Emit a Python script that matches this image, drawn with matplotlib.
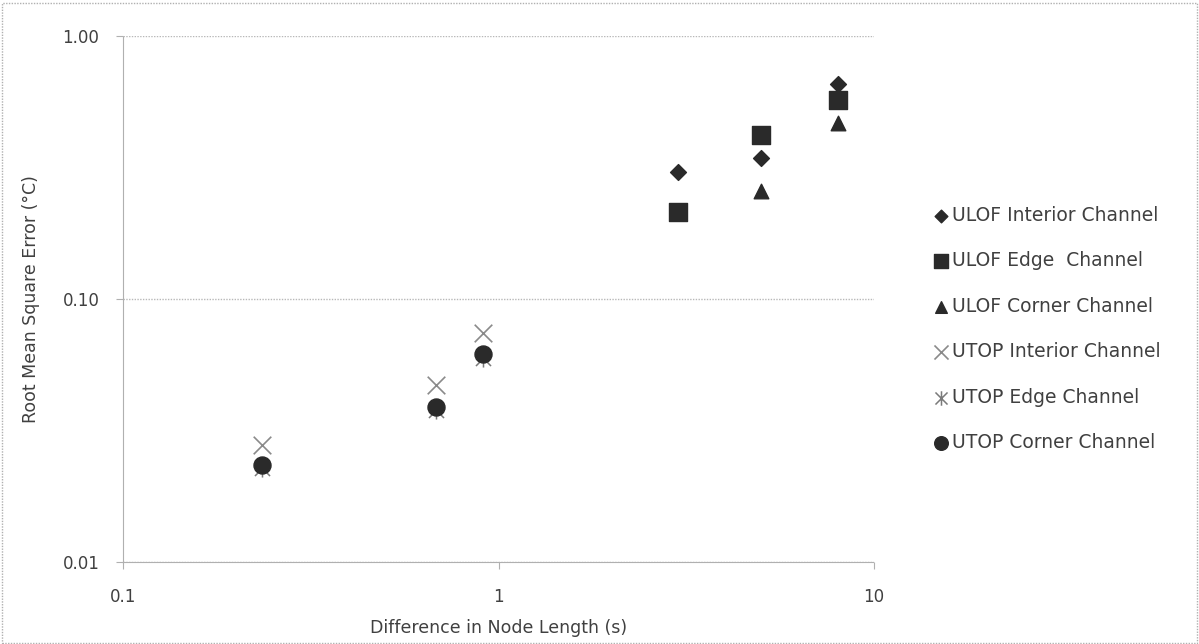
import matplotlib
matplotlib.use("Agg")
import matplotlib.pyplot as plt
from matplotlib.path import Path
from matplotlib.patches import Rectangle
from matplotlib.ticker import FixedLocator, FixedFormatter, NullLocator

plt.rcParams['font.family'] = ['DejaVu Sans']

# Node length differences (s) and RMS errors (°C)
ulof_x = [3.0, 5.0, 8.0]
ulof_interior = [0.305, 0.344, 0.656]
ulof_edge = [0.214, 0.421, 0.572]
ulof_corner_x = [5.0, 8.0]
ulof_corner = [0.257, 0.466]

utop_x = [0.235, 0.68, 0.91]
utop_interior = [0.0279, 0.0472, 0.0745]
utop_edge = [0.0228, 0.0380, 0.0595]
utop_corner = [0.0233, 0.0390, 0.0618]

x_ticks = [0.1, 1, 10]
x_tick_labels = ["0.1", "1", "10"]
y_ticks = [0.01, 0.1, 1.0]
y_tick_labels = ["0.01", "0.10", "1.00"]

# Excel-style star marker: an X with a vertical stroke
star = Path([(-1, -1), (1, 1), (-1, 1), (1, -1), (0, -1.2), (0, 1.2)],
            [Path.MOVETO, Path.LINETO, Path.MOVETO, Path.LINETO, Path.MOVETO, Path.LINETO])

dark = "#2a2a2a"
text_col = "#404040"

fig = plt.figure(figsize=(11.99, 6.44), dpi=100)
ax = fig.add_axes([123 / 1199, 1 - 562 / 644, (874 - 123) / 1199, (562 - 36) / 644])

ax.set_xscale("log")
ax.set_yscale("log")
ax.set_xlim(0.1, 10)
ax.set_ylim(0.01, 1.0)

ax.scatter(ulof_x, ulof_interior, marker="D", s=65, color=dark, label="ULOF Interior Channel", zorder=3)
ax.scatter(ulof_x, ulof_edge, marker="s", s=150, color=dark, label="ULOF Edge  Channel", zorder=3)
ax.scatter(ulof_corner_x, ulof_corner, marker="^", s=110, color=dark, label="ULOF Corner Channel", zorder=3)
ax.scatter(utop_x, utop_interior, marker="x", s=160, color="#8a8a8a", linewidths=1.2,
           label="UTOP Interior Channel", zorder=3)
ax.scatter(utop_x, utop_edge, marker=star, s=170, color="#7a7a7a", linewidths=1.1,
           label="UTOP Edge Channel", zorder=3)
ax.scatter(utop_x, utop_corner, marker="o", s=150, color=dark, label="UTOP Corner Channel", zorder=4)

ax.xaxis.set_major_locator(FixedLocator(x_ticks))
ax.xaxis.set_major_formatter(FixedFormatter(x_tick_labels))
ax.xaxis.set_minor_locator(NullLocator())
ax.yaxis.set_major_locator(FixedLocator(y_ticks))
ax.yaxis.set_major_formatter(FixedFormatter(y_tick_labels))
ax.yaxis.set_minor_locator(NullLocator())

ax.grid(axis="y", which="major", color="#b8b8b8", linestyle=(0, (1, 1)), linewidth=1.0)
for side in ("top", "right"):
    ax.spines[side].set_visible(False)
for side in ("left", "bottom"):
    ax.spines[side].set_color("#b0b0b0")
    ax.spines[side].set_linestyle((0, (1, 1)))
ax.tick_params(axis="x", direction="out", length=5, color="#b0b0b0", labelsize=12,
               labelcolor=text_col, pad=14)
ax.tick_params(axis="y", direction="out", length=5, color="#b0b0b0", labelsize=12,
               labelcolor=text_col, pad=12)

ax.set_xlabel("Difference in Node Length (s)", fontsize=12.5, color=text_col, labelpad=9)
ax.set_ylabel("Root Mean Square Error (°C)", fontsize=12.5, color=text_col, labelpad=16)

leg = fig.legend(loc="upper left", bbox_to_anchor=(915 / 1199, 1 - 189 / 644), frameon=False,
                 fontsize=13.5, labelspacing=1.41, handletextpad=0.05, handlelength=1.0,
                 markerscale=0.8)
for t in leg.get_texts():
    t.set_color(text_col)

fig.patches.append(Rectangle((0.002, 0.002), 0.996, 0.994, transform=fig.transFigure,
                             fill=False, edgecolor="#b0b0b0", linewidth=1.0,
                             linestyle=(0, (1, 1))))

fig.savefig("out.png", dpi=100)
